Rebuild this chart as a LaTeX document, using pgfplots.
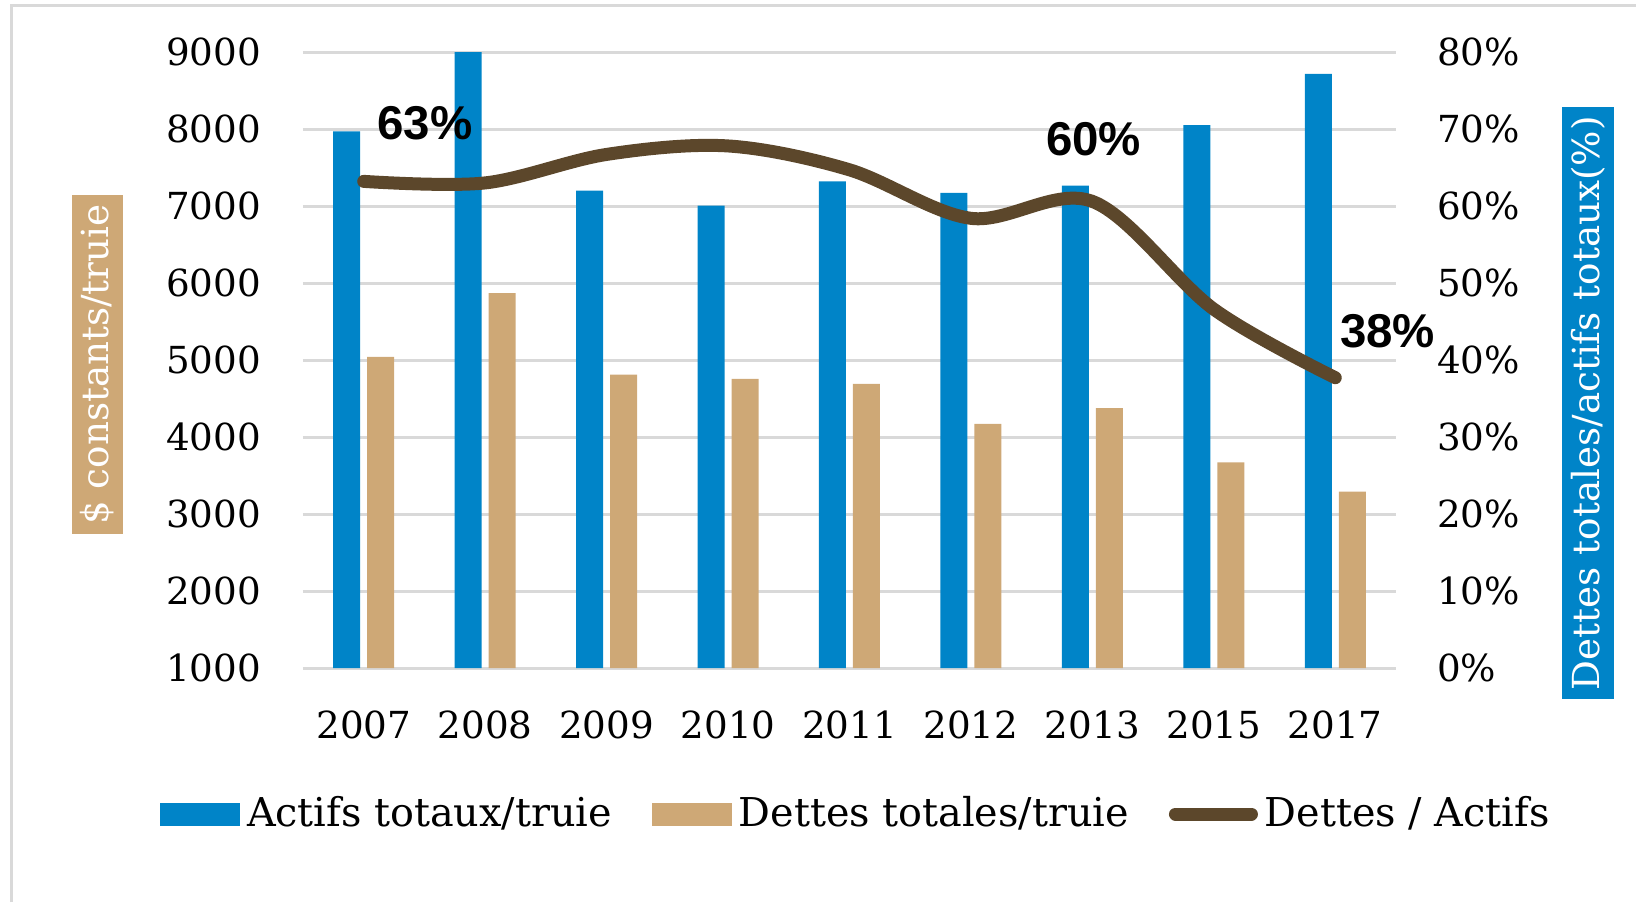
\documentclass[border=0pt]{standalone}
\usepackage{fontspec}
\setmainfont{DejaVu Serif}
\newfontfamily\labfont{Liberation Sans}
\usepackage{pgfplots}
\pgfplotsset{compat=1.18}
\definecolor{bleu}{RGB}{0,132,200}
\definecolor{sable}{RGB}{206,168,118}
\definecolor{brun}{RGB}{92,71,43}
\definecolor{grille}{RGB}{217,217,217}

\begin{document}
\fontsize{10.6}{13}\selectfont
\begin{tikzpicture}
\path[use as bounding box] (0,0) rectangle (16.36,9.02);
\draw[grille, line width=0.03cm] (0.12,0) -- (0.12,8.97) -- (16.36,8.97);

% axe gauche : barres
\begin{axis}[
  at={(3.03cm,2.34cm)}, anchor=south west,
  scale only axis, width=10.93cm, height=6.16cm,
  /pgf/number format/assume math mode=true,
  /pgf/number format/1000 sep={},
  ymin=1000, ymax=9000, ytick={1000,2000,...,9000},
  xmin=-0.5, xmax=8.5, xtick={0,...,8},
  xticklabels={2007,2008,2009,2010,2011,2012,2013,2015,2017},
  axis line style={draw=none},
  major tick length=0pt,
  ymajorgrids, grid style={grille, line width=0.03cm},
  yticklabel style={xshift=-0.29cm},
  xticklabel style={yshift=-0.3cm},
  ylabel={\$ constants/truie},
  ylabel style={at={(axis description cs:-0.188,0.4927)}, anchor=center,
    fill=sable, text=white, inner sep=0.09cm},
  ybar, bar width=0.27cm,
  legend columns=3,
  legend style={at={(0.508,-0.237)}, anchor=center, draw=none,
    font=\fontsize{11.3}{13}\selectfont,
    /tikz/every even column/.append style={column sep=0.33cm}},
  legend cell align=left,
]
\addplot[fill=bleu, draw=none, bar shift=-0.17cm,
  legend image code/.code={\fill[bleu] (0cm,-0.115cm) rectangle (0.8cm,0.115cm);}]
  coordinates {(0,7970) (1,9010) (2,7200) (3,7005) (4,7320) (5,7170) (6,7265) (7,8050) (8,8715)};
\addplot[fill=sable, draw=none, bar shift=0.17cm,
  legend image code/.code={\fill[sable] (0cm,-0.115cm) rectangle (0.8cm,0.115cm);}]
  coordinates {(0,5040) (1,5870) (2,4810) (3,4755) (4,4690) (5,4170) (6,4375) (7,3670) (8,3290)};
\addlegendimage{legend image code/.code={\draw[brun, line width=0.13cm, line cap=round] (0.065cm,0cm) -- (0.825cm,0cm);}}
\legend{Actifs totaux/truie, Dettes totales/truie, Dettes / Actifs}
\end{axis}

% axe droit : ratio
\begin{axis}[
  at={(3.03cm,2.34cm)}, anchor=south west,
  scale only axis, width=10.93cm, height=6.16cm,
  /pgf/number format/assume math mode=true,
  ymin=0, ymax=80, ytick={0,10,...,80},
  yticklabel={\pgfmathprintnumber{\tick}\%},
  xmin=-0.5, xmax=8.5, hide x axis,
  axis y line*=right, axis line style={draw=none}, major tick length=0pt,
  yticklabel style={anchor=west, xshift=0.28cm},
  ylabel={Dettes totales/actifs totaux(\%)},
  ylabel style={at={(axis description cs:1.1757,0.430)}, anchor=center,
    fill=bleu, text=white, inner sep=0.09cm},
  clip=false,
]
\addplot[brun, line width=0.13cm, line cap=round, smooth, tension=0.55]
  coordinates {(0,63.2) (1,63.0) (2,66.7) (3,67.8) (4,64.7) (5,58.4) (6,60.6) (7,46.6) (8,37.7)};
\node[font=\fontsize{13.5}{15}\labfont\bfseries] at (axis cs:0.505,70.8) {63\%};
\node[font=\fontsize{13.5}{15}\labfont\bfseries] at (axis cs:6.01,68.7) {60\%};
\node[font=\fontsize{13.5}{15}\labfont\bfseries] at (axis cs:8.43,43.8) {38\%};
\end{axis}
\end{tikzpicture}
\end{document}
